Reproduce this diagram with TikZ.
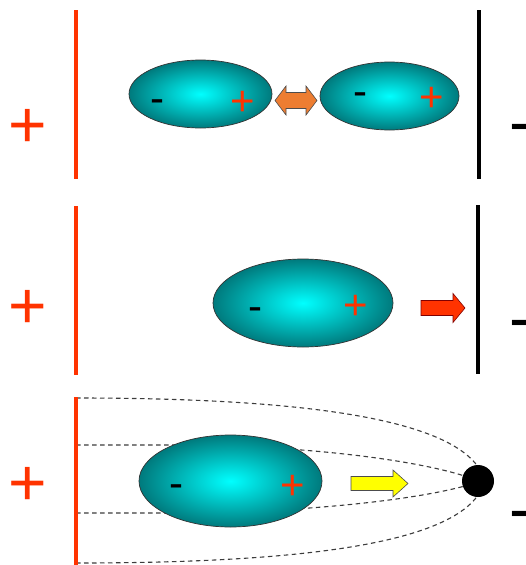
\documentclass[tikz,border=0pt]{standalone}
\usepackage{fontspec}
\setmainfont{Liberation Sans}
\usetikzlibrary{shapes.geometric}
\definecolor{plusred}{RGB}{255,51,0}
\definecolor{tealedge}{RGB}{0,122,125}
\definecolor{arroworange}{RGB}{237,125,49}
\definecolor{arrowyellow}{RGB}{255,255,0}
\definecolor{dashgray}{RGB}{60,60,60}
\tikzset{
  plate/.style={line width=4pt},
  redplate/.style={plate, draw=plusred},
  blackplate/.style={plate, draw=black},
  molecule/.style={ellipse, draw=black!80, line width=0.7pt, inner sep=0pt,
    inner color=cyan, outer color=tealedge},
  bigplus/.style={text=plusred, inner sep=0pt, anchor=base, font=\fontsize{66}{66}\selectfont},
  bigminus/.style={text=black, inner sep=0pt, anchor=base, font=\fontsize{66}{66}\selectfont},
  smallplus/.style={text=plusred, inner sep=0pt, anchor=base, font=\fontsize{42}{42}\selectfont},
  smallminus/.style={text=black, inner sep=0pt, anchor=base, font=\fontsize{42}{42}\selectfont},
  blockarrow/.style={line width=0.6pt, line join=miter},
  field/.style={draw=dashgray, line width=1.1pt, dash pattern=on 4.5pt off 3.5pt},
}
\begin{document}
\begin{tikzpicture}[x=1pt,y=-1pt]
\useasboundingbox (0,0) rectangle (525,565);
% ---------- panel 1
\coordinate (r1t) at (76,10); \coordinate (r1b) at (76,179);
\draw[redplate] (r1t) -- (r1b);
\coordinate (b1t) at (479,10); \coordinate (b1b) at (479,179);
\draw[blackplate] (b1t) -- (b1b);
\node[bigplus] (p1) at (28,147.6) {+};
\node[bigminus] (m1) at (520.5,144.7) {-};
\node[molecule, minimum width=143, minimum height=68] (e1a) at (200.5,94) {};
\node[molecule, minimum width=139, minimum height=68] (e1b) at (389.5,96) {};
\node[smallminus] (e1am) at (157.5,112.3) {-};
\node[smallplus] (e1ap) at (243,115) {+};
\node[smallminus] (e1bm) at (360,105.3) {-};
\node[smallplus] (e1bp) at (431.5,111) {+};
\draw[blockarrow, fill=arroworange, draw=black!70]
  (275,100.5) -- (286,86) -- (286,92.5) -- (306,92.5) -- (306,86) -- (317,100.5)
  -- (306,115) -- (306,108.5) -- (286,108.5) -- (286,115) -- cycle;
% ---------- panel 2
\coordinate (r2t) at (76,206); \coordinate (r2b) at (76,375);
\draw[redplate] (r2t) -- (r2b);
\coordinate (b2t) at (478,205); \coordinate (b2b) at (478,374);
\draw[blackplate] (b2t) -- (b2b);
\node[bigplus] (p2) at (28,328.6) {+};
\node[bigminus] (m2) at (520.5,340.7) {-};
\node[molecule, minimum width=180, minimum height=88] (e2) at (303,303) {};
\node[smallminus] (e2m) at (255.5,320.3) {-};
\node[smallplus] (e2p) at (355.5,319.5) {+};
\draw[blockarrow, fill=plusred, draw=red!50!black]
  (421,300.5) -- (453,300.5) -- (453,293.5) -- (465,308) -- (453,322.5)
  -- (453,315.5) -- (421,315.5) -- cycle;
% ---------- panel 3
\coordinate (r3t) at (76,397); \coordinate (r3b) at (76,567);
\node[circle, fill=black, minimum size=32, inner sep=0pt] (dot) at (478,481) {};
\draw[field] (76,398) .. controls (300,398) and (440,418) .. (dot.95);
\draw[field] (76,563) .. controls (300,563) and (440,544) .. (dot.265);
\draw[field] (76,445) -- (180,445) .. controls (320,446) and (420,462) .. (dot.160);
\draw[field] (76,513) -- (180,513) .. controls (320,512) and (420,498) .. (dot.200);
\draw[redplate] (r3t) -- (r3b);
\node[bigplus] (p3) at (28,505.6) {+};
\node[bigminus] (m3) at (520.5,531.7) {-};
\node[molecule, minimum width=183, minimum height=92] (e3) at (230.5,481) {};
\node[smallminus] (e3m) at (176.5,497.3) {-};
\node[smallplus] (e3p) at (292.5,499.5) {+};
\draw[blockarrow, fill=arrowyellow, draw=black!70]
  (351,476.5) -- (393,476.5) -- (393,470) -- (408,483.5) -- (393,497)
  -- (393,490.5) -- (351,490.5) -- cycle;
\end{tikzpicture}
\end{document}
